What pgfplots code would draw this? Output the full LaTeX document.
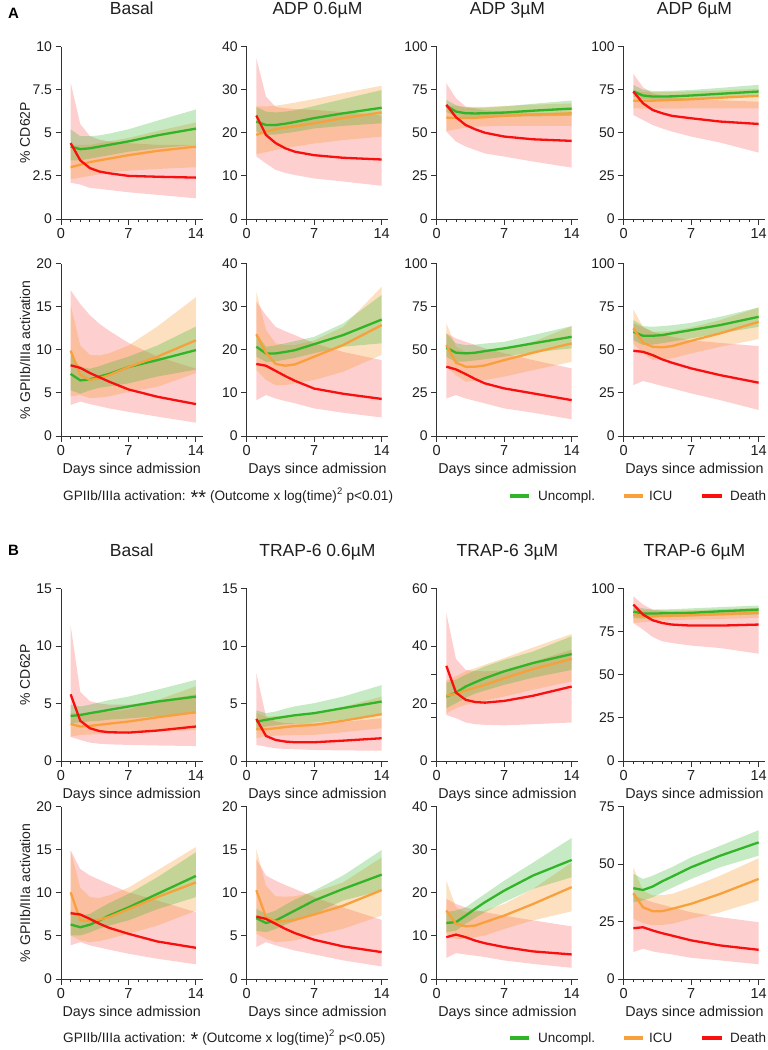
\documentclass[border=0pt]{standalone}
\usepackage{fontspec}
\setmainfont{Liberation Sans}
\usepackage{pgfplots}
\pgfplotsset{compat=1.18}
\usepgfplotslibrary{fillbetween}
\usepackage{pgfplotstable}

\definecolor{cg}{RGB}{50,180,40}
\definecolor{co}{RGB}{247,160,60}
\definecolor{cr}{RGB}{250,15,15}
\definecolor{ax}{RGB}{50,50,50}

% columns: x, green mean/low/high, orange mean/low/high, red mean/low/high
\pgfplotstableread{
x g gl gh o ol oh r rl rh
1 4.2 3.4 5.2 3.0 2.3 4.3 4.4 2.1 7.9
2 4.05 3.4 4.8 3.15 2.4 4.3 3.4 2.0 5.5
3 4.1 3.5 4.8 3.3 2.5 4.3 2.95 1.8 4.8
4 4.2 3.6 4.85 3.4 2.6 4.4 2.75 1.75 4.6
5 4.3 3.7 4.95 3.5 2.7 4.5 2.65 1.68 4.5
7 4.5 3.9 5.2 3.7 2.8 4.7 2.5 1.55 4.4
10 4.85 4.1 5.7 3.95 2.9 5.1 2.45 1.4 4.3
14 5.24 4.3 6.35 4.2 3.0 5.6 2.4 1.2 4.3
}\tAa
\pgfplotstableread{
x g gl gh o ol oh r rl rh
1 22.6 20.3 26 19.5 15 26.1 24 14.5 37.3
2 21.8 19.5 24.9 20.3 15.5 26.1 19.5 12.9 28.4
3 21.8 19.6 24.7 20.8 16 26.3 17.6 11.4 26
4 22.1 19.9 24.9 21.2 16.5 26.6 16.4 10.7 25.7
5 22.5 20.2 25.2 21.5 16.8 27 15.6 10.2 25.5
7 23.4 21 26.2 22.2 17.5 27.8 14.8 9.4 25.3
10 24.5 21.6 27.8 23.4 18.3 29.2 14.2 8.7 24.8
14 25.8 22.2 29.9 24.7 19.1 30.9 13.8 7.7 24
}\tAb
\pgfplotstableread{
x g gl gh o ol oh r rl rh
1 65.6 62 69 58.8 51 66 66.2 50.7 78.7
2 62.3 59.5 66 58.5 52 65.5 59 44.9 70
3 61.3 59 64.5 58.5 53 65 54.5 42 65.2
4 61.2 59 64.5 58.7 53.5 65 52 40 64
5 61.3 59.1 64.6 59 53.7 65 50 38 63
7 61.7 59.3 65.3 59.8 54 65.5 47.8 36.2 62.5
10 62.8 59.5 66.8 60.5 54 66.3 46.2 33.3 61.5
14 64 59.8 68.7 61.3 54 67 45.3 29.8 61
}\tAc
\pgfplotstableread{
x g gl gh o ol oh r rl rh
1 73.9 71 77.8 68.5 64.2 74.9 73.9 60.3 84.1
2 71.6 69.5 75 68.5 64 73.5 67.1 57.4 76.4
3 71 69.2 74.2 68.6 64 73.5 63.2 54.5 72.9
4 71 69.2 74.2 68.8 64 73.5 61.3 52.5 71.5
5 71.1 69.3 74.3 69 64 73.7 59.8 50.7 70.5
7 71.6 69.6 74.8 69.4 64.1 74 58.4 47.8 69.5
10 72.6 70.2 76 70.3 64.2 74.5 56.5 44.3 68.8
14 73.9 71 77.8 71.4 64.2 75.5 55.1 38.5 68
}\tAd
\pgfplotstableread{
x g gl gh o ol oh r rl rh
1 7.2 5.3 9.4 9.9 4.6 15.2 8.2 3.6 16.9
2 6.45 4.9 8.0 7.07 4.75 10.5 7.9 4.0 15.3
3 6.56 5.3 7.8 6.5 4.4 9.4 7.3 3.7 14
4 6.9 5.6 8.1 6.7 4.45 9.35 6.8 3.45 13
5 7.2 5.75 8.5 7.07 4.6 9.6 6.3 3.2 12.2
7 8.0 6.1 9.2 8.0 5.1 10.5 5.4 2.8 10.8
10 8.8 6.9 10.5 9.2 5.7 12.7 4.55 2.25 9.2
14 9.96 7.7 12.7 11.1 7.3 16.1 3.7 1.55 7.8
}\tAe
\pgfplotstableread{
x g gl gh o ol oh r rl rh
1 20.7 18.4 23.8 23.6 15.3 33.4 16.7 8.3 31.1
2 19.15 17.2 20.7 19.3 13 24.6 16.3 9.5 28
3 19.15 17.3 21 16.7 11.8 21.5 15.1 8.7 25.3
4 19.5 17.7 21.5 16.3 11.8 21.1 13.9 8.1 24.3
5 19.9 18.1 22 16.6 12.2 21.1 12.8 7.6 23.4
7 21.3 19.2 23 18.4 13 22.2 11 6.4 21.5
10 23.4 20.7 26.1 21.1 14.9 25.3 9.8 5.4 19.5
14 27 21.5 32.7 25.7 18.8 34.6 8.6 4.3 17.6
}\tAf
\pgfplotstableread{
x g gl gh o ol oh r rl rh
1 51.2 45.9 59.5 52.7 40.2 65.3 40.2 21.8 59.5
2 48.3 43 53.7 42.5 35.3 51.7 38.6 23.7 56.6
3 47.9 43.2 52.7 40.2 31.5 48.8 35.9 21.8 54.6
4 48.3 43.8 53 40.2 32 48.5 33 20.3 52.7
5 49.2 44.5 53.6 40.9 32.4 48.8 30.5 18.9 50.8
7 50.8 46 54.6 44 34.4 50.8 27.6 16 48
10 53.7 48.5 58.5 48.3 38.2 54.6 24.7 13.5 44
14 57.5 50.8 63.7 53.7 43 63.7 20.8 9.7 39.2
}\tAg
\pgfplotstableread{
x g gl gh o ol oh r rl rh
1 60.4 55.6 67.2 62.4 53.7 73.4 49.4 29.5 65.3
2 58.1 52.7 63.7 54.1 47.9 63.3 48.8 31.9 63
3 58.1 53 63.3 51.7 44 60.4 46.9 30.5 60.4
4 58.5 53.8 63.7 51.4 44.5 60.5 44.4 29 59
5 59.5 54.7 64.2 52.1 45 60.8 42.5 27.6 57.5
7 61.4 56.6 65.6 55.2 47.9 62.9 39.2 24.7 55.5
10 64.3 59.5 69.1 59.5 51.7 67.2 35.3 20.8 54
14 69.1 63.3 74.5 66.2 56.2 74.5 30.9 15.1 52.1
}\tAh
\pgfplotstableread{
x g gl gh o ol oh r rl rh
1 3.92 3.3 4.9 3.23 2.1 4.16 5.8 2.1 11.8
2 4.0 3.35 4.74 3.0 2.27 4.16 3.5 1.83 6.0
3 4.16 3.45 4.9 3.05 2.3 4.2 2.85 1.6 5.2
4 4.3 3.5 5.1 3.15 2.35 4.25 2.6 1.5 5.0
5 4.45 3.6 5.3 3.25 2.37 4.3 2.5 1.45 4.9
7 4.74 3.7 5.6 3.43 2.4 4.45 2.47 1.4 4.9
10 5.17 3.9 6.2 3.8 2.55 5.3 2.65 1.35 5.2
14 5.6 4.16 7.06 4.24 2.7 6.5 3.0 1.3 5.8
}\tBa
\pgfplotstableread{
x g gl gh o ol oh r rl rh
1 3.43 2.7 4.4 2.76 1.98 4.16 3.66 1.4 7.65
2 3.58 3.0 4.16 2.76 2.18 3.87 2.18 1.25 3.87
3 3.72 3.1 4.3 2.85 2.2 3.9 1.83 1.1 3.43
4 3.85 3.2 4.55 2.95 2.22 3.95 1.69 1.05 3.3
5 3.98 3.25 4.75 3.04 2.25 4.0 1.63 1.02 3.28
7 4.16 3.34 5.03 3.14 2.27 4.16 1.63 0.96 3.3
10 4.6 3.6 5.6 3.5 2.5 4.7 1.77 0.92 3.4
14 5.17 4.0 6.6 4.07 2.85 5.6 1.98 0.9 3.72
}\tBb
\pgfplotstableread{
x g gl gh o ol oh r rl rh
1 22.4 18.4 27.3 22.7 16.6 28 33.1 16 51.5
2 23.8 20.1 28.3 23.4 18.4 29.5 23.8 14.9 35.5
3 25.9 22 30 24.5 19.5 31.2 21.3 13.4 31.7
4 27.4 23.5 31.5 25.5 20.3 32.3 20.5 12.8 31.3
5 28.8 24.5 32.9 26.5 21 33.5 20.3 12.6 31.2
7 31.2 26.5 35.2 28.8 22.4 35.8 20.9 12.4 31.5
10 34.1 29 38.1 32 24.8 39.5 22.7 12.8 34.5
14 37.2 31.7 43.4 35.5 27.7 44.2 25.9 13.4 38.7
}\tBc
\pgfplotstableread{
x g gl gh o ol oh r rl rh
1 86.6 82.9 89.7 84.9 80 88.8 90.7 80 95.5
2 85.5 82.5 88.5 83.9 80.5 87.5 84.9 76.2 90.7
3 85.5 83 87.8 84 81 87.3 81.6 71.9 87.8
4 85.6 83.3 87.9 84.2 81.5 87.3 80 69.4 87
5 85.7 83.5 88 84.3 81.7 87.3 79.1 68.4 86.6
7 85.9 83.8 88.5 84.5 82 87.5 78.5 66.9 86.5
10 86.8 84.3 89.2 85.2 82.4 88 78.5 65.5 87
14 87.8 84.9 90.1 85.9 82.9 88.8 79.1 62.2 87.8
}\tBd
\pgfplotstableread{
x g gl gh o ol oh r rl rh
1 6.32 5.05 7.9 10.06 5.05 14.9 7.63 3.9 14.9
2 6.0 5.05 7.36 6.8 4.47 10.6 7.48 4.28 12.75
3 6.3 5.4 7.55 6.7 4.28 9.5 6.97 3.9 12.0
4 6.8 5.85 8.2 6.9 4.4 9.4 6.4 3.65 11.5
5 7.36 6.2 8.8 7.2 4.66 9.7 5.93 3.4 11.0
7 8.3 6.8 9.87 8.1 5.24 10.6 5.24 2.93 10.06
10 9.87 8.1 11.8 9.5 6.2 12.6 4.35 2.35 9.1
14 11.95 9.5 14.7 11.2 7.9 15.3 3.62 1.7 7.75
}\tBe
\pgfplotstableread{
x g gl gh o ol oh r rl rh
1 7.05 5.6 8.13 10.3 5.24 15.07 7.24 3.7 13.9
2 6.5 5.43 7.55 7.17 4.66 10.8 6.97 4.28 12
3 6.78 5.8 7.94 6.67 4.28 9.6 6.4 3.9 11.4
4 7.36 6.3 8.6 6.7 4.35 9.55 5.82 3.6 10.9
5 7.94 6.7 9.2 6.86 4.47 9.6 5.32 3.3 10.44
7 9.1 7.55 10.25 7.48 5.05 10.06 4.55 2.85 9.5
10 10.44 9.1 12 8.5 5.82 11.2 3.78 2.16 8.3
14 12.1 10.25 14.95 10.3 7.36 14.1 3.12 1.46 6.86
}\tBf
\pgfplotstableread{
x g gl gh o ol oh r rl rh
1 13.0 10.9 15.5 15.9 10.5 22.8 9.7 4.9 18.6
2 13.2 11.2 15.9 12.8 9.3 16.6 10.3 6.0 17.4
3 14.7 12.8 16.6 12.2 9.3 15.5 9.7 5.7 16.6
4 16.3 14.2 18.2 12.4 9.7 15.6 8.9 5.4 16
5 17.8 15.5 19.7 13.2 10.1 15.9 8.3 5.1 15.5
7 20.5 17.8 22.8 14.7 11.6 17.4 7.4 4.3 14.7
10 24 20.9 27 17.4 13.6 20.9 6.4 3.5 13.6
14 27.6 23.6 32.7 21.3 15.7 27 5.7 2.6 12.2
}\tBg
\pgfplotstableread{
x g gl gh o ol oh r rl rh
1 39.5 33.4 45.7 37.3 26.2 48.6 22.1 11.7 36.3
2 38.7 34.1 43.5 31.2 24.3 38.4 22.5 13.2 34.8
3 40.2 35.5 44.9 29.5 23.3 36.3 21.1 12 33.4
4 42.5 37.6 46.8 29.5 23.5 36.5 19.9 11.3 32.3
5 44.5 39.6 48.6 30.5 24 37 18.9 10.7 31.2
7 48.6 43.5 52.9 32.7 26.2 39.9 16.8 9.2 29
10 53.6 48.6 57.9 37 29 44.9 14.6 8.1 26.9
14 59.4 53.6 64.7 43.5 34.1 52.5 12.7 6.4 24.7
}\tBh

\pgfplotsset{
  panel/.style={
    scale only axis, width=141.5pt, height=172.5pt,
    anchor=south west,
    xmin=0, xmax=14.68, ymin=0,
    axis lines=left,
    clip=false,
    axis line style={draw=ax, line width=0.9pt, -},
    xtick style={draw=ax, line width=0.9pt, solid},
    ytick style={draw=ax, line width=0.9pt, solid},
    tick align=outside,
    tickwidth=5.5pt, subtickwidth=3.4pt,
    xtick={0,7,14}, minor xtick={1,2,3,4,5,6,8,9,10,11,12,13},
    /pgf/number format/assume math mode=true,
    yticklabel style={font=\fontsize{14}{14}\selectfont, text=black!88},
    xticklabel style={font=\fontsize{14.5}{14.5}\selectfont, text=black!88},
    title style={font=\fontsize{17.5}{17.5}\selectfont, text=black!88, at={(0.5,1)}, anchor=base, yshift=26pt},
    xlabel style={font=\fontsize{14.3}{14.3}\selectfont, text=black!88, at={(axis description cs:0.5,0)}, anchor=base, yshift=-37pt},
    ylabel style={font=\fontsize{14}{14}\selectfont, text=black!88, at={(axis description cs:0,0.5)}, anchor=center, yshift=36pt},
  },
}

% #1 = table, #2 = list of y tick values
\newcommand\bands[2]{%
  \addplot[draw=none, name path=rh] table[x=x,y=rh]{#1};
  \addplot[draw=none, name path=rl] table[x=x,y=rl]{#1};
  \addplot[fill=cr, fill opacity=0.2, draw=none] fill between[of=rh and rl];
  \addplot[draw=none, name path=oh] table[x=x,y=oh]{#1};
  \addplot[draw=none, name path=ol] table[x=x,y=ol]{#1};
  \addplot[fill=co, fill opacity=0.32, draw=none] fill between[of=oh and ol];
  \addplot[draw=none, name path=gh] table[x=x,y=gh]{#1};
  \addplot[draw=none, name path=gl] table[x=x,y=gl]{#1};
  \addplot[fill=cg, fill opacity=0.28, draw=none] fill between[of=gh and gl];
  \addplot[cg, line width=2.3pt] table[x=x,y=g]{#1};
  \addplot[co, line width=2.3pt] table[x=x,y=o]{#1};
  \addplot[cr, line width=2.3pt] table[x=x,y=r]{#1};
  % tick marks (axis decoration)
  \pgfplotsinvokeforeach{0,7,14}{\draw[ax, line width=0.9pt] (axis cs:##1,0) -- ++(0pt,-5.5pt);}
  \pgfplotsinvokeforeach{1,2,3,4,5,6,8,9,10,11,12,13}{\draw[ax, line width=0.9pt] (axis cs:##1,0) -- ++(0pt,-3.4pt);}
  \pgfplotsinvokeforeach{#2}{\draw[ax, line width=0.9pt] (axis cs:0,##1) -- ++(-5.5pt,0pt);}
}

\newcommand\legendrow[2]{% #1 = baseline y, #2 = line y
  \draw[cg, line width=3.5pt] (510pt,-#2pt) -- (529pt,-#2pt);
  \node[anchor=base west, inner sep=0pt, font=\fontsize{13.5}{13.5}\selectfont, text=black!88] at (538pt,-#1pt) {Uncompl.};
  \draw[co, line width=3.5pt] (624pt,-#2pt) -- (643pt,-#2pt);
  \node[anchor=base west, inner sep=0pt, font=\fontsize{13.5}{13.5}\selectfont, text=black!88] at (649pt,-#1pt) {ICU};
  \draw[cr, line width=3.5pt] (702pt,-#2pt) -- (722pt,-#2pt);
  \node[anchor=base west, inner sep=0pt, font=\fontsize{13.5}{13.5}\selectfont, text=black!88] at (730pt,-#1pt) {Death};
}
\newcommand\bigast[1]{\raisebox{-4.6pt}{\fontsize{20}{20}\selectfont #1}}

\begin{document}
\begin{tikzpicture}

% ---------------- Panel A, row 1: CD62P
\begin{axis}[panel, at={(61pt,-219pt)}, ymax=10, ytick={0,2.5,5,7.5,10}, title={Basal}, ylabel={\% CD62P}]
\bands{\tAa}{0,2.5,5,7.5,10}
\end{axis}
\begin{axis}[panel, at={(246.7pt,-219pt)}, ymax=40, ytick={0,10,20,30,40}, title={ADP 0.6µM}]
\bands{\tAb}{0,10,20,30,40}
\end{axis}
\begin{axis}[panel, at={(436.7pt,-219pt)}, ymax=100, ytick={0,25,50,75,100}, title={ADP 3µM}]
\bands{\tAc}{0,25,50,75,100}
\end{axis}
\begin{axis}[panel, at={(623.7pt,-219pt)}, ymax=100, ytick={0,25,50,75,100}, title={ADP 6µM}]
\bands{\tAd}{0,25,50,75,100}
\end{axis}

% ---------------- Panel A, row 2: GPIIb/IIIa
\begin{axis}[panel, at={(61pt,-436pt)}, ymax=20, ytick={0,5,10,15,20}, ylabel={\% GPIIb/IIIa activation}, xlabel={Days since admission}]
\bands{\tAe}{0,5,10,15,20}
\end{axis}
\begin{axis}[panel, at={(246.7pt,-436pt)}, ymax=40, ytick={0,10,20,30,40}, xlabel={Days since admission}]
\bands{\tAf}{0,10,20,30,40}
\end{axis}
\begin{axis}[panel, at={(436.7pt,-436pt)}, ymax=100, ytick={0,25,50,75,100}, xlabel={Days since admission}]
\bands{\tAg}{0,25,50,75,100}
\end{axis}
\begin{axis}[panel, at={(623.7pt,-436pt)}, ymax=100, ytick={0,25,50,75,100}, xlabel={Days since admission}]
\bands{\tAh}{0,25,50,75,100}
\end{axis}

% ---------------- Panel B, row 3: CD62P
\begin{axis}[panel, at={(61pt,-761pt)}, ymax=15, ytick={0,5,10,15}, title={Basal}, ylabel={\% CD62P}, xlabel={Days since admission}]
\bands{\tBa}{0,5,10,15}
\end{axis}
\begin{axis}[panel, at={(246.7pt,-761pt)}, ymax=15, ytick={0,5,10,15}, title={TRAP-6 0.6µM}, xlabel={Days since admission}]
\bands{\tBb}{0,5,10,15}
\end{axis}
\begin{axis}[panel, at={(436.7pt,-761pt)}, ymax=60, ytick={0,15,20,30,40,60}, yticklabels={0,,20,,40,60}, title={TRAP-6 3µM}, xlabel={Days since admission}]
\bands{\tBc}{0,15,20,30,40,60}
\end{axis}
\begin{axis}[panel, at={(623.7pt,-761pt)}, ymax=100, ytick={0,25,50,75,100}, title={TRAP-6 6µM}, xlabel={Days since admission}]
\bands{\tBd}{0,25,50,75,100}
\end{axis}

% ---------------- Panel B, row 4: GPIIb/IIIa
\begin{axis}[panel, at={(61pt,-979pt)}, ymax=20, ytick={0,5,10,15,20}, ylabel={\% GPIIb/IIIa activation}, xlabel={Days since admission}]
\bands{\tBe}{0,5,10,15,20}
\end{axis}
\begin{axis}[panel, at={(246.7pt,-979pt)}, ymax=20, ytick={0,5,10,15,20}, xlabel={Days since admission}]
\bands{\tBf}{0,5,10,15,20}
\end{axis}
\begin{axis}[panel, at={(436.7pt,-979pt)}, ymax=40, ytick={0,10,20,30,40}, xlabel={Days since admission}]
\bands{\tBg}{0,10,20,30,40}
\end{axis}
\begin{axis}[panel, at={(623.7pt,-979pt)}, ymax=75, ytick={0,25,50,75}, xlabel={Days since admission}]
\bands{\tBh}{0,25,50,75}
\end{axis}

% panel letters
\node[anchor=base west, inner sep=0pt, font=\bfseries\fontsize{15}{15}\selectfont] at (8pt,-18pt) {A};
\node[anchor=base west, inner sep=0pt, font=\bfseries\fontsize{15}{15}\selectfont] at (8pt,-555pt) {B};

% footnotes
\node[anchor=base west, inner sep=0pt, font=\fontsize{13.6}{13.6}\selectfont, text=black!88] at (63pt,-500pt) {GPIIb/IIIa activation: \bigast{**} (Outcome x log(time)\textsuperscript{2} p<0.01)};
\node[anchor=base west, inner sep=0pt, font=\fontsize{13.6}{13.6}\selectfont, text=black!88] at (63pt,-1042pt) {GPIIb/IIIa activation: \bigast{*} (Outcome x log(time)\textsuperscript{2} p<0.05)};

% legends
\legendrow{500}{496}
\legendrow{1042}{1038}

\pgfresetboundingbox
\path[use as bounding box] (0,0) rectangle (768pt,-1050pt);
\end{tikzpicture}
\end{document}
